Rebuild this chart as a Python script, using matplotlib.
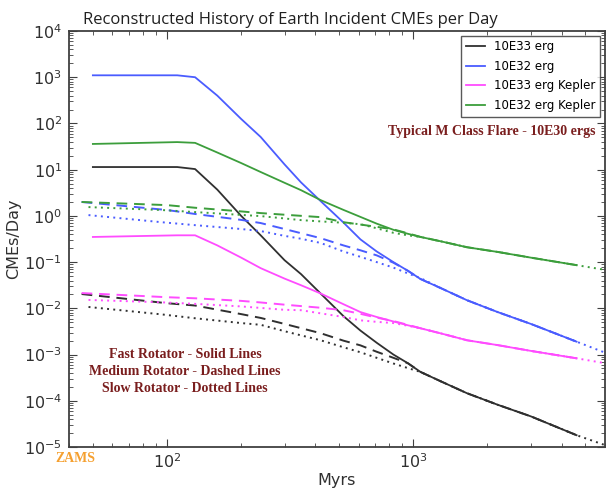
import matplotlib
matplotlib.use("Agg")
import matplotlib.pyplot as plt
from matplotlib.ticker import LogLocator, NullFormatter

# ---------------- data ----------------
x_fast = [50, 110, 130, 160, 200, 240, 300, 350, 420, 520, 610, 710, 830, 950, 1070, 1300, 1650, 2200, 3000, 4600]
e33_fast = [11.4, 11.4, 10.3, 3.7, 1.0, 0.38, 0.11, 0.055, 0.021, 0.0068, 0.0033, 0.0018, 0.001, 0.00065, 0.00042,
            0.00026, 0.000146, 0.000082, 0.000046, 0.000018]
e32_fast = [1100, 1100, 1000, 400, 125, 51, 13, 5.3, 2.1, 0.72, 0.31, 0.17, 0.1, 0.065, 0.043,
            0.027, 0.015, 0.0083, 0.0046, 0.0019]
e33k_fast = [0.35, 0.38, 0.38, 0.23, 0.125, 0.074, 0.044, 0.0316, 0.021, 0.0123, 0.0083, 0.0065, 0.0052, 0.0043, 0.0037,
             0.00285, 0.00204, 0.0016, 0.0012, 0.00083]
e32k_fast = [36, 39.5, 38, 23.5, 13.9, 8.9, 5.2, 3.6, 2.2, 1.35, 0.95, 0.68, 0.5, 0.41, 0.35,
             0.28, 0.21, 0.166, 0.125, 0.086]

x_med = [45, 100, 130, 200, 240, 300, 420, 520, 610, 710, 830, 950, 1070, 1300, 1650, 2200, 3000, 4600]
e33_med = [0.0204, 0.0129, 0.0115, 0.0075, 0.0062, 0.0046, 0.0029, 0.0020, 0.00158, 0.00115, 0.00085, 0.00065, 0.00042,
           0.00026, 0.000146, 0.000082, 0.000046, 0.000018]
e32_med = [2.0, 1.34, 1.1, 0.82, 0.70, 0.52, 0.33, 0.23, 0.18, 0.14, 0.097, 0.065, 0.043,
           0.027, 0.015, 0.0083, 0.0046, 0.0019]
e33k_med = [0.0214, 0.0174, 0.0165, 0.0145, 0.0134, 0.012, 0.0103, 0.0091, 0.0076, 0.0063, 0.0053, 0.0044, 0.0037,
            0.00285, 0.00204, 0.0016, 0.0012, 0.00083]
e32k_med = [2.0, 1.71, 1.5, 1.25, 1.15, 1.06, 0.94, 0.73, 0.65, 0.58, 0.51, 0.42, 0.35,
            0.28, 0.21, 0.166, 0.125, 0.086]

x_slow = [48, 95, 130, 200, 240, 300, 350, 420, 520, 610, 710, 830, 950, 1070, 1300, 1650, 2200, 3000, 4600, 6000]
e33_slow = [0.0107, 0.0074, 0.0061, 0.0048, 0.0044, 0.0032, 0.0026, 0.00204, 0.00144, 0.00112, 0.00085, 0.00064, 0.00051,
            0.00042, 0.00026, 0.000146, 0.000082, 0.000046, 0.000018, 0.000011]
e32_slow = [1.04, 0.73, 0.63, 0.52, 0.47, 0.37, 0.32, 0.26, 0.17, 0.13, 0.1, 0.076, 0.057, 0.045,
            0.027, 0.015, 0.0083, 0.0046, 0.0019, 0.0011]
e33k_slow = [0.0152, 0.0135, 0.0125, 0.011, 0.0102, 0.0093, 0.0091, 0.0078, 0.0065, 0.0055, 0.0051, 0.0048, 0.0042,
             0.0037, 0.00285, 0.00204, 0.0016, 0.0012, 0.00083, 0.00065]
e32k_slow = [1.55, 1.34, 1.21, 1.05, 0.99, 0.88, 0.81, 0.76, 0.71, 0.66, 0.54, 0.43, 0.38, 0.35,
             0.28, 0.21, 0.166, 0.125, 0.086, 0.068]

labels = ["10E33 erg", "10E32 erg", "10E33 erg Kepler", "10E32 erg Kepler"]
colors = ["#303030", "#4a5cff", "#ff4cff", "#3c9e3c"]

title = "Reconstructed History of Earth Incident CMEs per Day"
note_flare = "Typical M Class Flare - 10E30 ergs"
note_rot = ["Fast Rotator - Solid Lines", "Medium Rotator - Dashed Lines", "Slow Rotator - Dotted Lines"]

# ---------------- plot ----------------
W, H = 607, 491
fig = plt.figure(figsize=(W / 100, H / 100), dpi=100)
ax = fig.add_axes([69 / W, 1 - 447 / H, (605 - 69) / W, (447 - 31) / H])

fast = [e33_fast, e32_fast, e33k_fast, e32k_fast]
med = [e33_med, e32_med, e33k_med, e32k_med]
slow = [e33_slow, e32_slow, e33k_slow, e32k_slow]

for ys, c, lab in zip(fast, colors, labels):
    ax.plot(x_fast, ys, color=c, lw=1.3, label=lab)
for ys, c in zip(med, colors):
    ax.plot(x_med, ys, color=c, lw=1.4, linestyle=(0, (5.5, 3.5)))
for ys, c in zip(slow, colors):
    ax.plot(x_slow, ys, color=c, lw=1.4, linestyle=(0, (1, 2.2)))

ax.set_xscale("log")
ax.set_yscale("log")
ax.set_xlim(40, 6000)
ax.set_ylim(1e-5, 1e4)
ax.yaxis.set_major_locator(LogLocator(base=10, numticks=20))
ax.yaxis.set_minor_locator(LogLocator(base=10, subs=range(2, 10), numticks=20))
ax.yaxis.set_minor_formatter(NullFormatter())
ax.xaxis.set_minor_formatter(NullFormatter())

for s in ax.spines.values():
    s.set_color("#404040")
    s.set_linewidth(1.3)
ax.tick_params(which="both", direction="in", top=True, right=True, colors="#404040", labelcolor="#303030")
ax.tick_params(which="major", length=6, labelsize=11.5)
ax.tick_params(axis="x", which="major", pad=4)
ax.tick_params(axis="y", which="major", pad=5)
ax.tick_params(which="minor", length=3)

ax.set_xlabel("Myrs", fontsize=11.5, color="#303030", labelpad=1)
ax.set_ylabel("CMEs/Day", fontsize=11.5, color="#303030", labelpad=2)

fig.text(290 / W, 1 - 20 / H, title, ha="center", va="center", fontsize=12,
         family=["Open Sans", "DejaVu Sans"], color="#202020")

leg = ax.legend(loc="upper right", fontsize=8.5, handlelength=1.6, frameon=True, fancybox=False,
                borderaxespad=0.4, labelspacing=0.55)
leg.get_frame().set_edgecolor("#303030")
leg.get_frame().set_linewidth(1.0)

red = "#7a1e1e"
fig.text(492 / W, 1 - 132 / H, note_flare, ha="center", va="center", fontsize=10,
         family="Liberation Serif", weight="bold", color=red)
for i, t in enumerate(note_rot):
    fig.text(185 / W, 1 - (354 + 17.5 * i) / H, t, ha="center", va="center", fontsize=10,
             family="Liberation Serif", weight="bold", color=red)
fig.text(75 / W, 1 - 459 / H, "ZAMS", ha="center", va="center", fontsize=10,
         family="Liberation Serif", weight="bold", color="#f5a030")

fig.savefig("out.png", dpi=100)
